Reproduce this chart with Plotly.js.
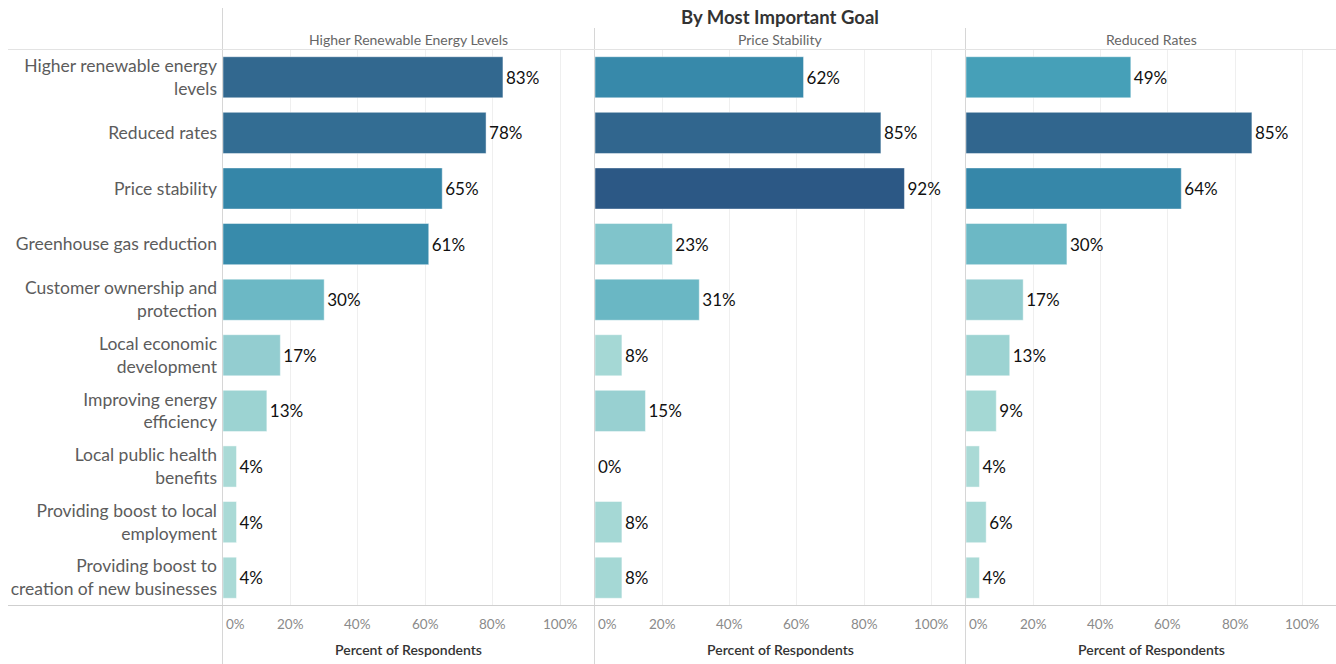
<!DOCTYPE html>
<html>
<head>
<meta charset="utf-8">
<script src="https://cdn.plot.ly/plotly-3.0.1.min.js"></script>
<style>html,body{margin:0;padding:0;background:#fff;}#chart{width:1336px;height:664px;}</style>
</head>
<body>
<div id="chart"></div>
<script>
// ---- data ----
const categories = [
  "Higher renewable energy<br>levels",
  "Reduced rates",
  "Price stability",
  "Greenhouse gas reduction",
  "Customer ownership and<br>protection",
  "Local economic<br>development",
  "Improving energy<br>efficiency",
  "Local public health<br>benefits",
  "Providing boost to local<br>employment",
  "Providing boost to<br>creation of new businesses"
];
const panelTitles = ["Higher Renewable Energy Levels", "Price Stability", "Reduced Rates"];
const higherRenewable = [83, 78, 65, 61, 30, 17, 13, 4, 4, 4];
const priceStability  = [62, 85, 92, 23, 31, 8, 15, 0, 8, 8];
const reducedRates    = [49, 85, 64, 30, 17, 13, 9, 4, 6, 4];
const tickValues = [0, 20, 40, 60, 80, 100];
const tickLabels = ["0%", "20%", "40%", "60%", "80%", "100%"];
const chartTitle = "By Most Important Goal";
const axisTitle = "Percent of Respondents";

// ---- styling ----
const W = 1336, H = 664;
const colorscale = [
  [0/92, "#afdcd8"], [10/92, "#a3d7d4"], [17/92, "#93cdd0"], [23/92, "#80c4cb"],
  [30/92, "#6cb8c5"], [49/92, "#46a0b8"], [62/92, "#3789aa"], [65/92, "#3586a8"],
  [78/92, "#336d93"], [85/92, "#31668e"], [1, "#2c5885"]
];
const panels = [[223, 594], [595, 965], [966, 1336]];
const yTop = 49.5, yBot = 605.5;
const yDom = [1 - yBot / H, 1 - yTop / H];
const xMax = 110;
const idx = categories.map((_, i) => i);
const series = [higherRenewable, priceStability, reducedRates];
const FONT = "Lato, 'Open Sans', sans-serif";

const traces = series.map((vals, k) => ({
  type: "bar",
  orientation: "h",
  x: vals,
  y: idx,
  xaxis: k === 0 ? "x" : "x" + (k + 1),
  yaxis: k === 0 ? "y" : "y" + (k + 1),
  width: 0.74,
  marker: {
    color: vals, colorscale: colorscale, cmin: 0, cmax: 92,
    line: {color: "rgba(255,255,255,0.45)", width: 1}
  },
  text: vals.map(v => v + "%"),
  textposition: "outside",
  textfont: {family: FONT, size: 17, color: "#111"},
  constraintext: "none",
  cliponaxis: false,
  hoverinfo: "none"
}));

const layout = {
  width: W, height: H,
  margin: {l: 0, r: 0, t: 0, b: 0},
  paper_bgcolor: "#fff", plot_bgcolor: "#fff",
  showlegend: false,
  font: {family: FONT},
  annotations: [],
  shapes: []
};

panels.forEach((p, k) => {
  const xa = k === 0 ? "xaxis" : "xaxis" + (k + 1);
  const ya = k === 0 ? "yaxis" : "yaxis" + (k + 1);
  const xr = k === 0 ? "x" : "x" + (k + 1);
  layout[xa] = {
    domain: [p[0] / W, p[1] / W], range: [0, xMax],
    anchor: k === 0 ? "y" : "y" + (k + 1),
    tickvals: tickValues, showticklabels: false, ticks: "",
    showgrid: true, gridcolor: "#efefef", gridwidth: 1,
    zeroline: false, showline: false, fixedrange: true
  };
  layout[ya] = {
    domain: yDom, range: [categories.length - 0.5, -0.5],
    anchor: k === 0 ? "x" : "x" + (k + 1),
    tickvals: idx, ticktext: categories,
    showticklabels: k === 0, ticks: "",
    ticklabelstandoff: 5,
    tickfont: {family: FONT, size: 17.5, color: "#5c5c5c"},
    showgrid: false, zeroline: false, showline: false, fixedrange: true
  };
  // tick labels
  tickValues.forEach((t, i) => {
    layout.annotations.push({
      xref: xr, yref: "paper", x: t, y: 1 - 624 / H,
      text: tickLabels[i], showarrow: false,
      xanchor: t === 0 ? "left" : "center", yanchor: "middle",
      xshift: t === 0 ? 1 : 0,
      font: {family: FONT, size: 13.5, color: "#8a8a8a"}
    });
  });
  // axis title
  layout.annotations.push({
    xref: "paper", yref: "paper", x: (p[0] + p[1]) / 2 / W, y: 1 - 649 / H,
    text: axisTitle, showarrow: false, xanchor: "center", yanchor: "middle",
    font: {family: FONT, size: 14, color: "#333", weight: 600}
  });
  // panel header
  layout.annotations.push({
    xref: "paper", yref: "paper", x: (p[0] + p[1]) / 2 / W, y: 1 - 40 / H,
    text: panelTitles[k], showarrow: false, xanchor: "center", yanchor: "middle",
    font: {family: FONT, size: 14, color: "#666"}
  });
  // panel separators
  layout.shapes.push({
    type: "line", xref: "paper", yref: "paper",
    x0: (p[0] - 0.5) / W, x1: (p[0] - 0.5) / W,
    y0: 0, y1: 1 - (k === 0 ? 8 : 28) / H,
    line: {color: "#d6d6d6", width: 1}
  });
});

layout.annotations.push({
  xref: "paper", yref: "paper", x: 780 / W, y: 1 - 17 / H,
  text: chartTitle, showarrow: false, xanchor: "center", yanchor: "middle",
  font: {family: FONT, size: 18.5, color: "#333", weight: 700}
});
[[yTop, "#e3e3e3"], [yBot, "#cfcfcf"]].forEach(([yy, c]) => {
  layout.shapes.push({
    type: "line", xref: "paper", yref: "paper",
    x0: 8 / W, x1: 1, y0: 1 - yy / H, y1: 1 - yy / H,
    line: {color: c, width: 1}
  });
});

Plotly.newPlot("chart", traces, layout, {displayModeBar: false, staticPlot: true});
</script>
</body>
</html>
